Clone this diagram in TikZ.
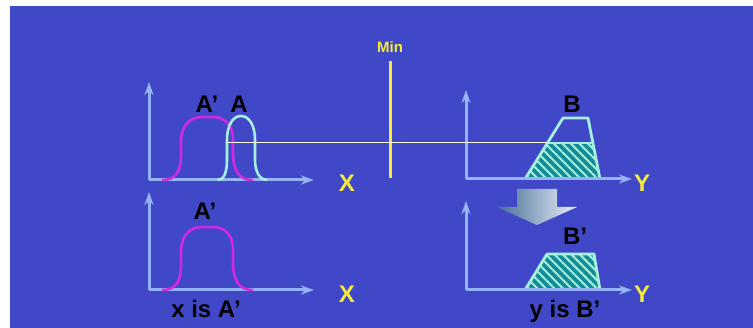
\documentclass[tikz,border=0pt]{standalone}
\usepackage{fontspec}
\setmainfont{Liberation Sans}
\usetikzlibrary{arrows.meta,patterns.meta}
\definecolor{bg}{RGB}{64,72,200}
\definecolor{axisc}{RGB}{150,180,245}
\definecolor{magc}{RGB}{210,40,225}
\definecolor{cyc}{RGB}{165,240,222}
\definecolor{tealc}{RGB}{20,140,150}
\definecolor{yel}{RGB}{245,235,60}
\definecolor{arrdark}{RGB}{70,110,150}
\definecolor{arrlight}{RGB}{235,240,250}
\begin{document}
\begin{tikzpicture}[x=1pt,y=-1pt,
  axis/.style={axisc,line width=3pt,-{Stealth[length=13pt,width=9pt,inset=4pt]}},
  lab/.style={font=\bfseries\fontsize{24}{24}\selectfont,text=black,inner sep=0pt,anchor=base},
  axlab/.style={font=\bfseries\fontsize{24}{24}\selectfont,text=yel,inner sep=0pt,anchor=base},
  magcurve/.style={magc,line width=2.6pt},
  cycurve/.style={cyc,line width=2.6pt},
  trap/.style={cyc,line width=2.8pt,line join=round},
  hatch/.style={fill=tealc,postaction={pattern={Lines[angle=-45,distance=6pt,line width=2pt]},pattern color=cyc}},
  minline/.style={yel,line width=3pt},
  hline/.style={white!92!yellow,line width=1pt}
]
\useasboundingbox (0,0) rectangle (753,328);
\fill[bg] (10,6) rectangle (753,328);

% ---------- top-left graph ----------
\coordinate (o1) at (149,180);
\coordinate (y1) at (149,82);
\coordinate (x1) at (314,180);
\draw[axis] (o1) -- (y1);
\draw[axis] (o1) -- (x1);
\node[axlab] (X1) at (347,192) {X};
% A'
\draw[magcurve] (162,180) .. controls (177,180) and (181,170) .. (181,155) -- (181,140)
  .. controls (182,124) and (191,117) .. (202,117) -- (213,117)
  .. controls (224,117) and (233,124) .. (233,140) -- (233,155)
  .. controls (234,170) and (238,180) .. (253,180);
% A
\draw[cycurve] (218,180) .. controls (224,180) and (227,172) .. (227,160) -- (227,140)
  .. controls (227,125) and (233,116) .. (241,116)
  .. controls (249,116) and (255,125) .. (255,140) -- (255,160)
  .. controls (255,172) and (260,180) .. (267,180);
\node[lab] (LA1) at (207,113) {A’};
\node[lab] (LA) at (239,113) {A};

% ---------- Min ----------
\coordinate (m1) at (390,61);
\coordinate (m2) at (390,178);
\draw[minline] (m1) -- (m2);
\node[font=\bfseries\fontsize{15}{15}\selectfont,text=yel,inner sep=0pt,anchor=base] (min) at (390,53) {Min};

% ---------- top-right graph ----------
\coordinate (o2) at (466,179);
\coordinate (y2) at (466,90);
\coordinate (x2) at (632,179);
\fill[hatch] (525,179) -- (547.4,143) -- (592.9,143) -- (600,179) -- cycle;
\draw[trap] (525,179) -- (563,118) -- (588,118) -- (600,179);
\draw[trap] (547.4,143) -- (592.9,143);
\draw[axis] (o2) -- (y2);
\draw[axis] (o2) -- (x2);
\node[axlab] (Y1) at (642,192) {Y};
\node[lab] (LB) at (572,113) {B};

% ---------- connecting line ----------
\coordinate (h1) at (226,143);
\coordinate (h2) at (547,143);
\draw[hline] (h1) -- (h2);

% ---------- big arrow ----------
\shade[left color=arrdark,right color=arrlight]
  (517,189) -- (557,189) -- (557,207) -- (577,207) -- (537,225) -- (497,207) -- (517,207) -- cycle;

% ---------- bottom-left graph ----------
\coordinate (o3) at (149,290);
\coordinate (y3) at (149,192);
\coordinate (x3) at (314,290);
\draw[axis] (o3) -- (y3);
\draw[axis] (o3) -- (x3);
\node[axlab] (X2) at (347,303) {X};
\begin{scope}[shift={(0,110)}]
\draw[magcurve] (162,180) .. controls (177,180) and (181,170) .. (181,155) -- (181,140)
  .. controls (182,124) and (191,117) .. (202,117) -- (213,117)
  .. controls (224,117) and (233,124) .. (233,140) -- (233,155)
  .. controls (234,170) and (238,180) .. (253,180);
\end{scope}
\node[lab] (LA2) at (205,220) {A’};
\node[lab] (xis) at (206,318) {x is A’};

% ---------- bottom-right graph ----------
\coordinate (o4) at (466,290);
\coordinate (y4) at (466,201);
\coordinate (x4) at (632,290);
\fill[hatch] (525,290) -- (547,254) -- (594,254) -- (600,290) -- cycle;
\draw[trap] (525,290) -- (547,254) -- (594,254) -- (600,290);
\draw[axis] (o4) -- (y4);
\draw[axis] (o4) -- (x4);
\node[axlab] (Y2) at (642,303) {Y};
\node[lab] (LB2) at (575,245) {B’};
\node[lab] (yis) at (565,318) {y is B’};
\end{tikzpicture}
\end{document}
